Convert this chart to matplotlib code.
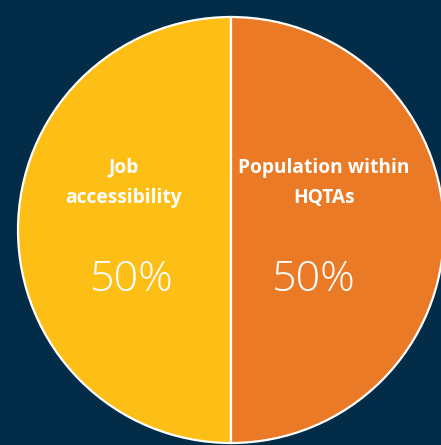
import matplotlib
matplotlib.use("Agg")
import matplotlib.pyplot as plt

# shares shown in the pie
categories = ["Job\naccessibility", "Population within\nHQTAs"]
shares = [50, 50]
colors = ["#FDBE16", "#EB7A26"]

BG = "#022C47"
W, H = 441, 445

fig = plt.figure(figsize=(W / 100, H / 100), dpi=100, facecolor=BG)
ax = fig.add_axes([0, 0, 1, 1])
ax.set_facecolor(BG)

cx, cy, r = 231, H - 230, 213
wedges, _ = ax.pie(
    shares, colors=colors, startangle=90, counterclock=True,
    center=(cx, cy), radius=r, frame=True,
    wedgeprops=dict(edgecolor="white", linewidth=1.6),
)
ax.set_xlim(0, W)
ax.set_ylim(0, H)
ax.set_aspect("equal")
ax.axis("off")

# label and percentage per wedge
label_x = [124, 324]
pct_x = [132, 314]
for name, val, x, px in zip(categories, shares, label_x, pct_x):
    ax.text(x, H - 183, name, ha="center", va="center", color="white",
            fontsize=13.8, fontweight="bold", family="Open Sans",
            linespacing=1.68)
    ax.text(px, H - 280, f"{val}%", ha="center", va="center",
            color="white", fontsize=31, fontweight="light",
            family="Open Sans")

fig.savefig("out.png", dpi=100, facecolor=BG)
